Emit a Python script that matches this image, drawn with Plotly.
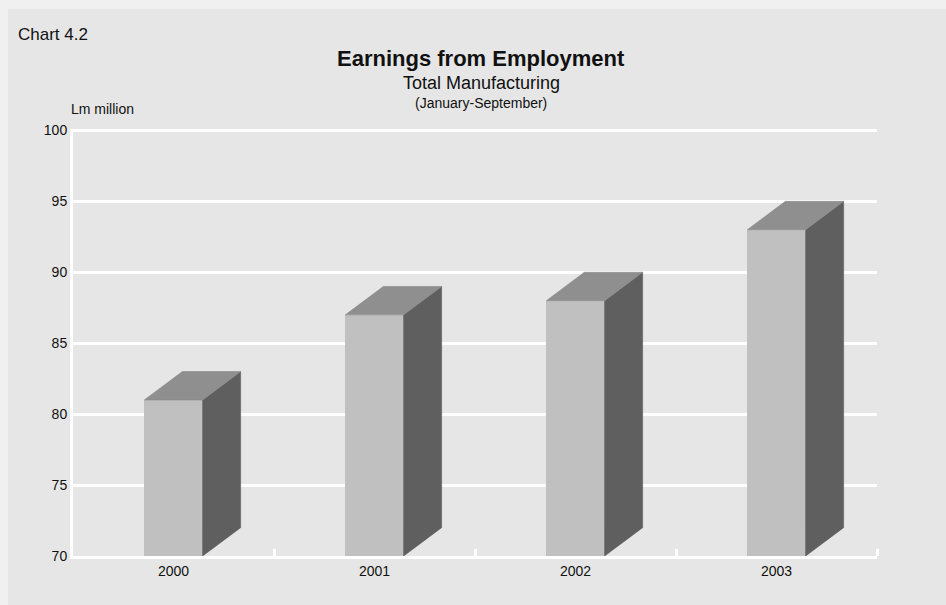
import plotly.graph_objects as go

# Earnings from employment, total manufacturing, Jan-Sep (Lm million)
years = ["2000", "2001", "2002", "2003"]
earnings = [81, 87, 88, 93]
y_ticks = [70, 75, 80, 85, 90, 95, 100]

BASE = 70
Y_TOP = 100.1       # a hair above 100 so the top gridline is drawn
HALF_W = 0.145      # half width of the front face (category units)
DEPTH_X = 0.189     # horizontal depth of the 3D extrusion (category units)
DEPTH_Y = 2.0       # vertical depth of the 3D extrusion (value units)

FRONT = "#c0c0c0"
SIDE = "#5f5f5f"
TOP = "#8f8f8f"
BG = "#e6e6e6"
FONT = "Liberation Sans, Arial, sans-serif"

xs = list(range(len(years)))

fig = go.Figure()

# front faces
fig.add_trace(go.Bar(
    x=xs, y=earnings, width=2 * HALF_W,
    marker=dict(color=FRONT, line=dict(width=0)),
    hoverinfo="skip", showlegend=False,
))

# side and top faces of each bar
for x, v in zip(xs, earnings):
    r = x + HALF_W
    l = x - HALF_W
    fig.add_trace(go.Scatter(
        x=[r, r + DEPTH_X, r + DEPTH_X, r, r],
        y=[BASE, BASE + DEPTH_Y, v + DEPTH_Y, v, BASE],
        fill="toself", fillcolor=SIDE, mode="lines",
        line=dict(width=0.6, color=SIDE),
        hoverinfo="skip", showlegend=False,
    ))
    fig.add_trace(go.Scatter(
        x=[l, l + DEPTH_X, r + DEPTH_X, r, l],
        y=[v, v + DEPTH_Y, v + DEPTH_Y, v, v],
        fill="toself", fillcolor=TOP, mode="lines",
        line=dict(width=0.6, color="#888888"),
        hoverinfo="skip", showlegend=False,
    ))

# plot area in pixels: x 73..877, y 129..556
PX_L, PX_R, PX_T, PX_B = 73, 877, 129, 556
W, H = PX_R - PX_L, PX_B - PX_T


def px(x):
    return (x - PX_L) / W


def py(y):
    return (PX_B - y) / H


# lighter outer frame around the chart panel
fig.add_shape(type="rect", xref="paper", yref="paper",
              x0=px(8), x1=px(950), y0=py(610), y1=py(9),
              fillcolor=BG, line=dict(width=0), layer="below")


def ann(text, x, y, size, bold=False, xanchor="center"):
    fig.add_annotation(
        text=f"<b>{text}</b>" if bold else text,
        x=x, y=y, xref="paper", yref="paper",
        xanchor=xanchor, yanchor="middle", showarrow=False,
        font=dict(family=FONT, size=size, color="#111111"),
    )


ann("Chart 4.2", px(16), py(35), 17, xanchor="left")
ann("Earnings from Employment", px(481), py(58), 22, bold=True)
ann("Total Manufacturing", px(481), py(83), 18)
ann("(January-September)", px(481), py(103), 14)
ann("Lm million", px(69), py(109), 14, xanchor="left")

fig.update_layout(
    width=946, height=605,
    margin=dict(l=PX_L, r=946 - PX_R, t=PX_T, b=605 - PX_B),
    paper_bgcolor="#f0f0f0",
    plot_bgcolor=BG,
    bargap=0,
    font=dict(family=FONT, size=14, color="#111111"),
    xaxis=dict(
        range=[-0.5, len(years) - 0.5],
        tickmode="array", tickvals=xs, ticktext=years,
        ticks="", showgrid=False, zeroline=False,
        showline=True, linecolor="white", linewidth=3,
        minor=dict(tickmode="array", tickvals=[i + 0.5 for i in xs],
                   ticks="inside", ticklen=7, tickwidth=3, tickcolor="white",
                   showgrid=False),
        tickfont=dict(size=14),
        fixedrange=True,
    ),
    yaxis=dict(
        range=[BASE, Y_TOP],
        tickmode="array", tickvals=y_ticks,
        ticks="", showgrid=True, gridcolor="white", gridwidth=3,
        zeroline=False, showline=True, linecolor="white", linewidth=3,
        tickfont=dict(size=14),
        fixedrange=True,
    ),
)

fig.write_html("out.html")
